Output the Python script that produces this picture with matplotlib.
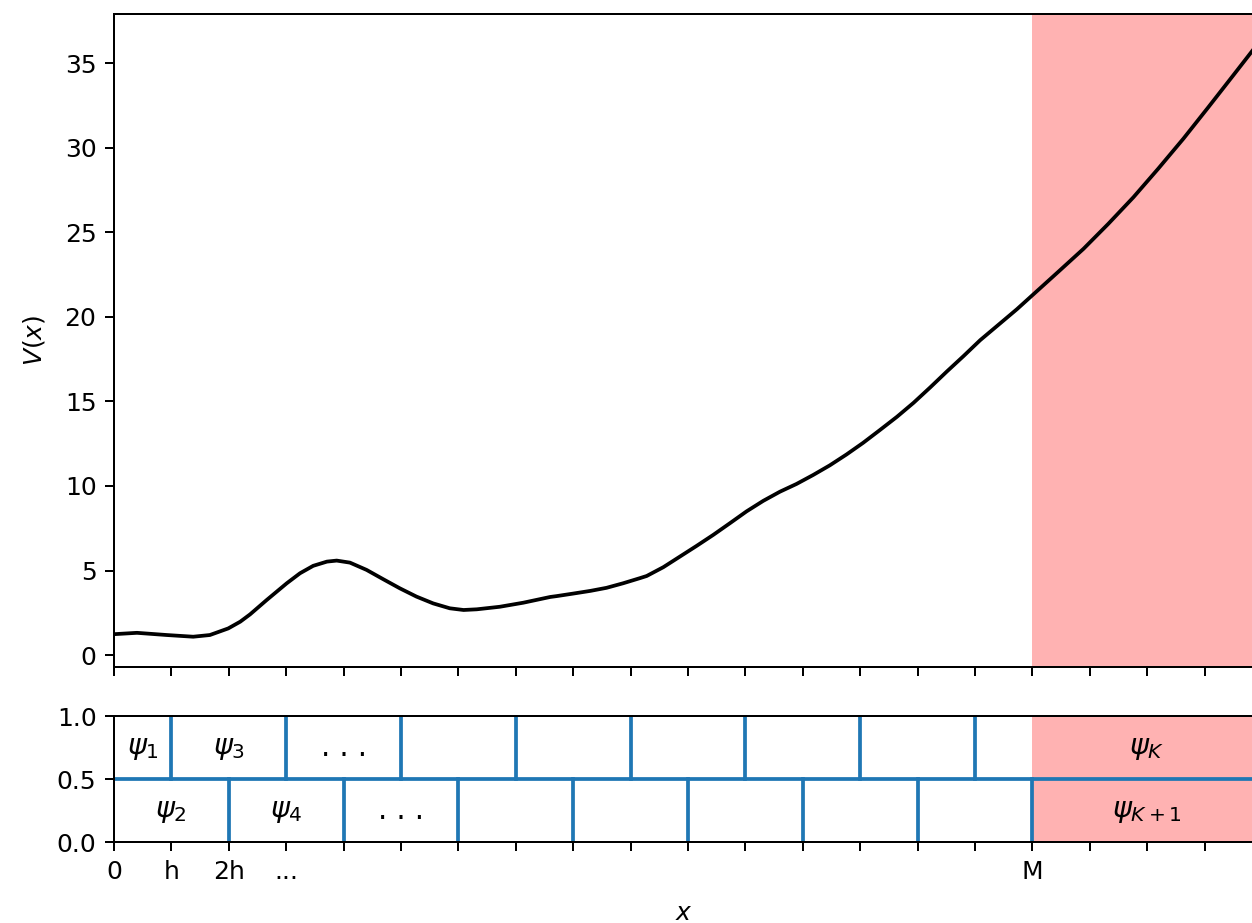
import numpy as np
import matplotlib
matplotlib.use("Agg")
import matplotlib.pyplot as plt

# potential V(x) (x in units of h)
x_pts = [0.00, 0.40, 0.92, 1.38, 1.67, 1.99, 2.20, 2.37, 2.66, 3.01, 3.24, 3.47,
         3.71, 3.88, 4.11, 4.40, 4.69, 4.98, 5.27, 5.56, 5.85, 6.09, 6.32, 6.72,
         7.13, 7.60, 7.71, 8.00, 8.30, 8.58, 8.87, 9.16, 9.28, 9.57, 9.86, 10.15,
         10.44, 10.73, 11.02, 11.31, 11.60, 11.89, 12.18, 12.47, 12.76, 13.05,
         13.34, 13.64, 13.93, 14.22, 14.51, 14.80, 15.09, 15.44, 15.73, 16.02,
         16.45, 16.89, 17.32, 17.76, 18.19, 18.63, 19.06, 19.50, 19.86]
v_pts = [1.24, 1.32, 1.19, 1.09, 1.19, 1.58, 1.98, 2.41, 3.26, 4.25, 4.84, 5.28,
         5.53, 5.59, 5.47, 5.04, 4.49, 3.95, 3.46, 3.06, 2.77, 2.67, 2.71, 2.86,
         3.10, 3.44, 3.49, 3.64, 3.80, 3.98, 4.25, 4.55, 4.68, 5.20, 5.83, 6.46,
         7.11, 7.80, 8.50, 9.12, 9.66, 10.12, 10.65, 11.22, 11.86, 12.55, 13.30,
         14.09, 14.92, 15.83, 16.77, 17.68, 18.62, 19.62, 20.45, 21.34, 22.66,
         24.02, 25.49, 27.07, 28.75, 30.53, 32.37, 34.28, 35.85]

M = 16
x_end = 19.86
grid = list(range(20))
tick_labels = ['0', 'h', '2h', '...'] + [''] * 12 + ['M', '', '', '']
upper_cuts = [1, 3, 5, 7, 9, 11, 13, 15]
lower_cuts = [2, 4, 6, 8, 10, 12, 14, 16]
upper_labels = [(0.5, r'$\psi_1$'), (2, r'$\psi_3$'), (4, '. . .'), (18, r'$\psi_K$')]
lower_labels = [(1, r'$\psi_2$'), (3, r'$\psi_4$'), (5, '. . .'), (18, r'$\psi_{K+1}$')]

fig = plt.figure(figsize=(1252 / 180, 923 / 180), dpi=180)
ax1 = fig.add_axes([114 / 1252, 256 / 923, 1140 / 1252, 653 / 923])
ax2 = fig.add_axes([114 / 1252, 81 / 923, 1140 / 1252, 126 / 923])

ax1.plot(x_pts, v_pts, color='black')
ax1.axvspan(M, x_end, color='red', alpha=0.3, lw=0)
ax1.set_xlim(0, x_end)
ax1.set_ylim(-0.7, 37.9)
ax1.set_xticks(grid)
ax1.set_xticklabels([])
ax1.set_ylabel('$V(x)$', labelpad=7)

ax2.axvspan(M, x_end, color='red', alpha=0.3, lw=0)
ax2.axhline(0.5, color='C0')
for c in upper_cuts:
    ax2.axvline(c, 0.5, 1, color='C0')
for c in lower_cuts:
    ax2.axvline(c, 0, 0.5, color='C0')
for xp, t in upper_labels:
    ax2.text(xp, 0.75, t, ha='center', va='center', fontsize=11.5)
for xp, t in lower_labels:
    ax2.text(xp, 0.25, t, ha='center', va='center', fontsize=11.5)
ax2.set_xlim(0, x_end)
ax2.set_ylim(0, 1)
ax2.set_yticks([0.0, 0.5, 1.0])
ax2.set_xticks(grid)
ax2.set_xticklabels(tick_labels)
ax2.set_xlabel('$x$', labelpad=7)

fig.savefig('out.png', dpi=180)
